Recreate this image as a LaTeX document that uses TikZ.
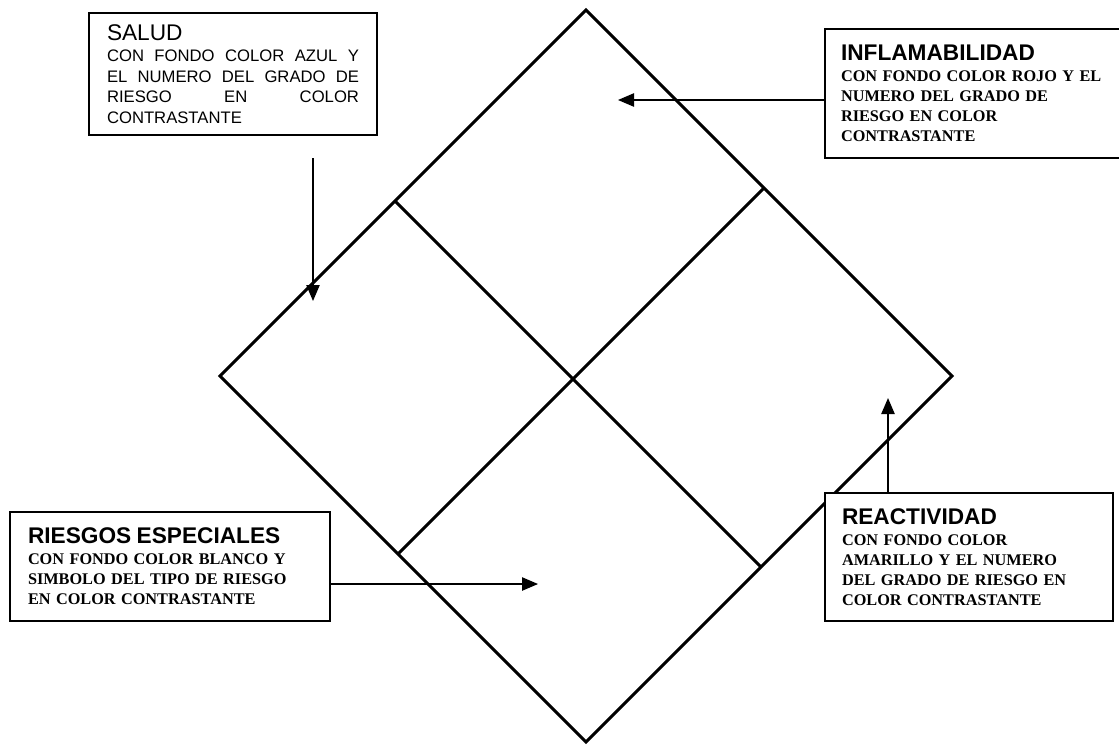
\documentclass[tikz,border=0pt]{standalone}
\usepackage{fontspec}
\setmainfont{Liberation Serif}
\setsansfont{Liberation Sans}
\usetikzlibrary{arrows.meta,calc}
\definecolor{hzInk}{HTML}{000000}
\newcommand{\hzTitle}[1]{{\sffamily\fontsize{17}{15}\selectfont #1}}
\tikzset{
  lblbox/.style={rectangle,draw=hzInk,fill=white,line width=1.2pt,
    anchor=north west,outer sep=0pt,inner ysep=0pt,text=hzInk},
  sansbody/.style={font=\sffamily\fontsize{12.5}{15.5}\selectfont,align=justify},
  serifbody/.style={font=\bfseries\fontsize{12.2}{15}\selectfont,align=left},
  edge/.style={draw=hzInk,line width=2.2pt,line join=miter},
  arr/.style={-{Triangle[length=12pt,width=10pt]},line width=1pt,draw=hzInk},
}

\begin{document}
\begin{tikzpicture}[x=0.75pt,y=-0.75pt]

  \useasboundingbox (0,0) rectangle (1119,744);

  % diamond
  \coordinate (dTop)   at (586,10);
  \coordinate (dRight) at (952,376);
  \coordinate (dBot)   at (586,742);
  \coordinate (dLeft)  at (220,376);
  \coordinate (tlMid)  at (395,201);
  \coordinate (brMid)  at (761,567);
  \coordinate (trMid)  at (764,188);
  \coordinate (blMid)  at (398,554);

  \draw[edge] (dTop) -- (dRight) -- (dBot) -- (dLeft) -- cycle;
  \draw[edge] (tlMid) -- (brMid);
  \draw[edge] (trMid) -- (blMid);

  % label boxes
  \node[lblbox,sansbody,text width=189pt,inner xsep=13.5pt,
        minimum width=216pt,minimum height=91.5pt] (salud) at (89,13)
    {\hzTitle{SALUD}\\[0.5pt]
     CON FONDO COLOR AZUL Y\linebreak
     EL NUMERO DEL GRADO DE\linebreak
     RIESGO EN COLOR\linebreak
     CONTRASTANTE};

  \node[lblbox,serifbody,text width=215pt,inner xsep=12pt,
        minimum height=96.75pt] (inflam) at (825,29)
    {\hzTitle{INFLAMABILIDAD}\\[0.75pt]
     CON FONDO COLOR ROJO Y EL\\
     NUMERO DEL GRADO DE\\
     RIESGO EN COLOR\\
     CONTRASTANTE};

  \node[lblbox,serifbody,text width=213pt,inner xsep=13.5pt,
        minimum width=240pt,minimum height=81.75pt] (riesgos) at (10,512)
    {\hzTitle{RIESGOS ESPECIALES}\\[0.75pt]
     CON FONDO COLOR BLANCO Y\\
     SIMBOLO DEL TIPO DE RIESGO\\
     EN COLOR CONTRASTANTE};

  \node[lblbox,serifbody,text width=190.5pt,inner xsep=12.75pt,
        minimum width=216pt,minimum height=96pt] (react) at (825,493)
    {\hzTitle{REACTIVIDAD}\\[0.75pt]
     CON FONDO COLOR\\
     AMARILLO Y EL NUMERO\\
     DEL GRADO DE RIESGO EN\\
     COLOR CONTRASTANTE};

  % pointers
  \coordinate (saludFrom) at (313,158);
  \coordinate (saludTip)  at (313,301);
  \coordinate (inflamTip) at (618,100);
  \coordinate (riesgosTip) at (538,584);
  \coordinate (reactTip)  at (888,398);

  \draw[arr] (saludFrom) -- (saludTip);
  \draw[arr] (inflam.west |- inflamTip) -- (inflamTip);
  \draw[arr] (riesgos.east |- riesgosTip) -- (riesgosTip);
  \draw[arr] (react.north -| reactTip) -- (reactTip);

\end{tikzpicture}
\end{document}
